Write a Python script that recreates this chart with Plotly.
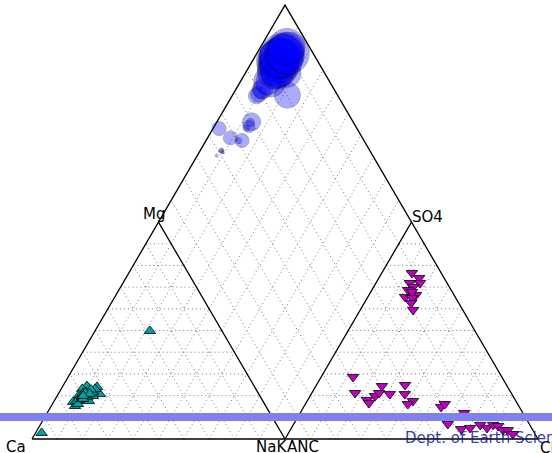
import numpy as np
import plotly.graph_objects as go

H = np.sqrt(3) / 2

# Cation composition (% of meq): Mg and Na+K, Ca is the remainder
cat_mg = [19.0, 19.4, 22.6, 20.0, 24.4, 18.0, 20.7, 49.8, 21.0, 22.0, 17.8, 20.5,
          23.1, 17.1, 20.3, 15.2, 2.8, 17.5, 22.1, 19.8, 17.5, 24.0, 23.1, 21.5,
          16.1, 18.4, 19.5, 21.2, 21.7, 18.8, 20.2, 22.8, 19.6, 21.3, 18.5, 20.8, 19.9]
cat_nak = [11.0, 10.9, 10.8, 12.0, 9.5, 9.8, 16.5, 21.7, 11.5, 12.5, 11.8, 10.0,
           8.3, 7.7, 8.5, 9.4, 2.4, 9.0, 13.0, 14.2, 13.7, 13.7, 13.4, 13.2,
           10.1, 10.2, 12.2, 9.6, 10.5, 10.6, 11.2, 11.9, 9.9, 10.4, 10.9, 12.4, 10.3]

# Anion composition (% of meq): SO4 and Cl, ANC (HCO3) is the remainder
an_so4 = [76.5, 74.2, 71.9, 71.9, 70.1, 68.7, 66.4, 65.5, 65.0, 62.7, 59.5, 67.8,
          28.6, 21.2, 18.0, 16.6, 19.8, 21.2, 24.4, 20.7, 24.9, 20.7, 17.5, 16.1,
          14.8, 16.1, 12.0, 6.9, 4.6, 5.1, 6.5, 5.1, 6.5, 6.0, 4.1, 4.1, 2.3]
an_cl = [11.9, 15.9, 13.4, 17.4, 15.6, 14.3, 18.6, 14.7, 17.7, 18.5, 20.9, 16.3,
         12.6, 17.1, 23.4, 24.9, 25.7, 26.6, 26.1, 31.1, 35.0, 37.0, 41.8, 40.5,
         54.3, 55.1, 64.8, 60.9, 67.3, 70.6, 73.9, 77.3, 79.0, 81.2, 84.1, 86.0, 88.9]

# Total dissolved solids (mg/L), sets bubble size in the diamond
tds = [1000, 900, 1100, 750, 950, 850, 700, 650, 1000, 800, 600, 1050,
       125, 75, 100, 75, 350, 350, 150, 350, 450, 300, 200, 150,
       400, 450, 750, 400, 500, 700, 850, 900, 1000, 1100, 950, 1050, 900]

vertex_labels = ["Ca", "Mg", "NaK", "SO4", "ANC", "Cl"]

mg = np.array(cat_mg) / 100
nak = np.array(cat_nak) / 100
so4 = np.array(an_so4) / 100
cl = np.array(an_cl) / 100

# Cation triangle: Ca (0,0), Na+K (1,0), Mg (0.5,H)
cx = nak + 0.5 * mg
cy = H * mg
# Anion triangle: ANC (1,0), Cl (2,0), SO4 (1.5,H)
ax = 1 + cl + 0.5 * so4
ay = H * so4
# Diamond projection
u = 1 - nak
v = so4 + cl
dx = 1 - 0.5 * u + 0.5 * v
dy = H * (u + v)

fig = go.Figure()

# Dotted 10 % grid
gx, gy = [], []
def seg(p, q):
    gx.extend([p[0], q[0], None])
    gy.extend([p[1], q[1], None])

for i in range(1, 10):
    t = i / 10
    for off in (0.0, 1.0):
        seg((off + t / 2, t * H), (off + 1 - t / 2, t * H))
        seg((off + t, 0), (off + t + 0.5 * (1 - t), (1 - t) * H))
        seg((off + 1 - t, 0), (off + 0.5 * (1 - t), (1 - t) * H))
    # diamond
    seg((1 - 0.5 * t, H * t), (1 - 0.5 * t + 0.5, H * (t + 1)))
    seg((1 + 0.5 * t, H * t), (1 + 0.5 * t - 0.5, H * (t + 1)))

fig.add_trace(go.Scatter(x=gx, y=gy, mode="lines", hoverinfo="skip",
                         line=dict(color="#7a7a7a", width=1, dash="1px,3px")))

# Frame
fx = [0, 1, 2, 0, None, 0.5, 1, 1.5]
fy = [0, 2 * H, 0, 0, None, H, 0, H]
fig.add_trace(go.Scatter(x=fx, y=fy, mode="lines", hoverinfo="skip",
                         line=dict(color="black", width=1.3)))

fig.add_trace(go.Scatter(x=cx, y=cy, mode="markers",
                         marker=dict(symbol="triangle-up", size=10, color="#00a3a3",
                                     line=dict(color="black", width=0.8))))
fig.add_trace(go.Scatter(x=ax, y=ay, mode="markers",
                         marker=dict(symbol="triangle-down", size=10, color="#bf00bf",
                                     line=dict(color="black", width=0.8))))
fig.add_trace(go.Scatter(x=dx, y=dy, mode="markers",
                         marker=dict(symbol="circle", size=np.array(tds) / 25,
                                     color="blue", opacity=0.33,
                                     line=dict(color="black", width=1))))

verts = {"Ca": (0, 0), "Mg": (0.5, H), "NaK": (1, 0),
         "SO4": (1.5, H), "ANC": (1, 0), "Cl": (2, 0)}
place = {"Ca": ("right", -4, -8), "Mg": ("center", -5, 8), "NaK": ("right", 4, -8),
         "SO4": ("left", -2, 5), "ANC": ("left", 0, -8), "Cl": ("left", 0, -9)}
for name in vertex_labels:
    xa, xs, ys = place[name]
    fig.add_annotation(x=verts[name][0], y=verts[name][1], text=name, showarrow=False,
                       xanchor=xa, yanchor="middle", xshift=xs, yshift=ys,
                       font=dict(family="DejaVu Sans", size=15, color="black"))

# Footer band and credit
W, HT = 552, 453
fig.add_shape(type="rect", xref="paper", yref="paper", x0=0, x1=1,
              y0=1 - 421 / HT, y1=1 - 413 / HT, fillcolor="#8080f0",
              line=dict(width=0), layer="above")
fig.add_annotation(xref="paper", yref="paper", x=403 / W, y=1 - 438 / HT,
                   text="Dept. of Earth Sciences", showarrow=False,
                   xanchor="left", yanchor="middle",
                   font=dict(family="DejaVu Sans", size=15, color="rgba(20,20,150,0.85)"))

fig.update_layout(
    width=W, height=HT, margin=dict(l=0, r=0, t=0, b=0),
    paper_bgcolor="white", plot_bgcolor="white", showlegend=False,
    xaxis=dict(range=[-32 / 253, (W - 32) / 253], visible=False, fixedrange=True),
    yaxis=dict(range=[-(HT - 439) / 250.5, 439 / 250.5], visible=False, fixedrange=True),
)

fig.write_html("out.html")
